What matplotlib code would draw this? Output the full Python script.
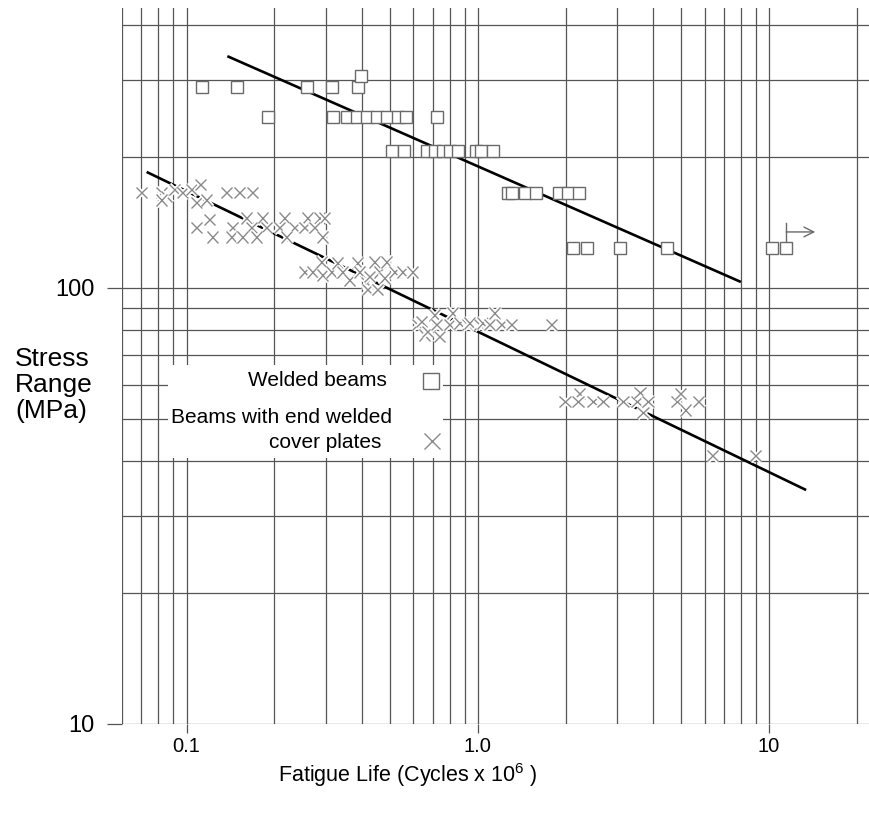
import matplotlib
matplotlib.use("Agg")
import matplotlib.pyplot as plt
from matplotlib.patches import Rectangle
from matplotlib import patheffects as pe

plt.rcParams['font.family'] = ['Liberation Sans', 'DejaVu Sans']
plt.rcParams['mathtext.fontset'] = 'custom'
plt.rcParams['mathtext.rm'] = 'Liberation Sans'
plt.rcParams['mathtext.it'] = 'Liberation Sans'

# ---------------- data ----------------
# Welded beams (squares): fatigue life (cycles x 1e6), stress range (MPa)
wb_N = [0.113, 0.149, 0.259, 0.315, 0.387,
        0.396,
        0.191, 0.318, 0.355, 0.384, 0.416, 0.450, 0.487, 0.531, 0.566, 0.723,
        0.507, 0.557, 0.668, 0.712, 0.758, 0.801, 0.854, 0.984, 1.024, 1.126,
        1.27, 1.31, 1.45, 1.58, 1.90, 2.04, 2.22,
        2.12, 2.37, 3.08, 4.46, 10.24, 11.44]
wb_S = [289, 289, 289, 289, 289,
        306,
        247, 247, 247, 247, 247, 247, 247, 247, 247, 247,
        206, 206, 206, 206, 206, 206, 206, 206, 206, 206,
        165, 165, 165, 165, 165, 165, 165,
        123.6, 123.6, 123.6, 123.6, 123.6, 123.6]

# Beams with end welded cover plates (crosses)
cp_N = [0.0700, 0.0821, 0.0854, 0.0910, 0.0969, 0.1040, 0.1117, 0.0821,
        0.1082, 0.1171, 0.1372, 0.1521, 0.1686,
        0.1082, 0.1200, 0.1229,
        0.1608, 0.1825, 0.2172, 0.2605, 0.2864, 0.2980,
        0.1439, 0.1673, 0.1884, 0.2087, 0.2350, 0.2544, 0.2754,
        0.1427, 0.1558, 0.1740, 0.2207, 0.2934,
        0.2544, 0.2710, 0.2910, 0.2934, 0.3150, 0.3303, 0.3436, 0.3633,
        0.3870, 0.3932, 0.4155, 0.4255, 0.4426, 0.4605, 0.4791, 0.4866,
        0.5187, 0.5524, 0.5978, 0.4188, 0.4533,
        0.6221, 0.6421, 0.6575, 0.6733, 0.7115, 0.7229, 0.7402, 0.8013,
        0.8205, 0.8673, 0.9240, 0.9387, 1.016, 1.040, 1.099, 1.144,
        1.209, 1.309, 1.796,
        1.991, 2.241, 2.206, 2.484, 2.689, 3.149, 3.519, 3.604, 3.838,
        3.690, 4.829, 4.946, 5.145, 5.702,
        6.370, 8.952]
cp_S = [165.2, 165.2, 161.7, 167.8, 165.2, 167.8, 172.3, 159.1,
        156.7, 159.1, 165.2, 165.2, 165.2,
        137.3, 143.2, 130.9,
        144.7, 144.7, 144.7, 144.7, 144.7, 144.7,
        137.3, 137.3, 137.3, 137.3, 137.3, 137.3, 137.3,
        130.9, 130.9, 130.9, 130.9, 130.9,
        108.8, 108.8, 114.7, 107.1, 108.8, 114.1, 108.8, 104.3,
        114.1, 108.8, 102.7, 106.0, 114.7, 108.8, 105.4, 114.7,
        108.8, 108.8, 108.8, 99.0, 99.0,
        82.3, 83.6, 78.0, 79.3, 86.7, 82.3, 77.2, 82.3,
        87.6, 83.1, 82.3, 83.1, 82.3, 83.1, 82.3, 87.6,
        82.3, 82.3, 82.3,
        54.8, 57.4, 54.8, 54.8, 54.8, 54.8, 54.8, 57.7, 54.8,
        51.9, 54.8, 57.4, 52.5, 54.8,
        41.2, 41.2]

# Regression lines (end points)
wb_fit_N = [0.138, 8.0]
wb_fit_S = [340, 103.2]
cp_fit_N = [0.0729, 13.4]
cp_fit_S = [184.5, 34.4]

# Run-out arrow on the last welded beam
runout_N = 11.44
runout_S = 123.6
arrow_top_S = 141
arrow_S = 134.4
arrow_tip_N = 14.4

# grid / ticks
x_grid = [0.06, 0.07, 0.08, 0.09, 0.1, 0.2, 0.3, 0.4, 0.5, 0.6, 0.7, 0.8, 0.9,
          1, 2, 3, 4, 5, 6, 7, 8, 9, 10, 20]
y_grid = [10, 20, 30, 40, 50, 60, 70, 80, 90, 100, 200, 300, 400]
x_ticks = [0.1, 1, 10]
x_tick_labels = ['0.1', '1.0', '10']
y_ticks = [10, 100]
y_tick_labels = ['10', '100']

# ---------------- figure ----------------
fig = plt.figure(figsize=(8.7, 8.14), dpi=100)
ax = fig.add_axes([122/870, 1-724/814, 748/870, 716/814])
ax.set_xscale('log')
ax.set_yscale('log')
ax.set_xlim(0.06, 22.2)
ax.set_ylim(10, 438.5)

for s in ax.spines.values():
    s.set_visible(False)

gcol = '#555555'
for xv in x_grid:
    ax.axvline(xv, color=gcol, lw=0.9, zorder=1)
for yv in y_grid:
    ax.axhline(yv, color=gcol, lw=0.9, zorder=1)

ax.xaxis.set_minor_locator(matplotlib.ticker.NullLocator())
ax.yaxis.set_minor_locator(matplotlib.ticker.NullLocator())
ax.set_xticks(x_ticks)
ax.set_xticklabels(x_tick_labels)
ax.set_yticks(y_ticks)
ax.set_yticklabels(y_tick_labels)
ax.tick_params(axis='x', length=6.5, width=0.9, color=gcol, pad=3, labelsize=14.5)
ax.tick_params(axis='y', length=10.5, width=0.9, color=gcol, pad=9.5, labelsize=17)

# legend white box
ax.add_patch(Rectangle((0.0615, 0.3715), 0.3676, 0.1299, transform=ax.transAxes,
                       facecolor='white', edgecolor='none', zorder=2))

# fit lines
ax.plot(wb_fit_N, wb_fit_S, color='black', lw=1.9, zorder=3, solid_capstyle='butt')
ax.plot(cp_fit_N, cp_fit_S, color='black', lw=1.9, zorder=3, solid_capstyle='butt')

# data
xcol = '#8a8a8a'
scol = '#6a6a6a'
ax.plot(cp_N, cp_S, ls='none', marker='x', ms=8, mew=1.0, color=xcol, zorder=4,
        path_effects=[pe.withStroke(linewidth=3.5, foreground='white')])
ax.plot(wb_N, wb_S, ls='none', marker='s', ms=8.3, mew=1.0, mfc='white', mec=scol,
        zorder=5)

# run-out arrow
ax.plot([runout_N, runout_N], [runout_S, arrow_top_S], color=scol, lw=1.0, zorder=4)
ax.annotate('', xy=(arrow_tip_N, arrow_S), xytext=(runout_N, arrow_S),
            arrowprops=dict(arrowstyle='->,head_length=0.7,head_width=0.35',
                            color=scol, lw=1.0, shrinkA=0, shrinkB=0), zorder=4)

# legend contents
ax.text(0.3543, 0.4804, 'Welded beams', transform=ax.transAxes, ha='right',
        va='center', fontsize=15, zorder=6)
ax.text(0.3610, 0.4274, 'Beams with end welded', transform=ax.transAxes, ha='right',
        va='center', fontsize=15, zorder=6)
ax.text(0.3463, 0.3925, 'cover plates', transform=ax.transAxes, ha='right',
        va='center', fontsize=15, zorder=6)
ax.plot([0.4131], [0.479], transform=ax.transAxes, ls='none', marker='s', ms=11,
        mew=1.0, mfc='white', mec=scol, zorder=6, clip_on=False)
ax.plot([0.4144], [0.3953], transform=ax.transAxes, ls='none', marker='x', ms=12,
        mew=1.0, color=xcol, zorder=6, clip_on=False)

# axis labels
fig.text(408/870, 1-775/814, 'Fatigue Life (Cycles x 10$^{6}$ )', ha='center',
         va='center', fontsize=15.5)
fig.text(15/870, 1-385/814, 'Stress\nRange\n(MPa)', ha='left', va='center',
         fontsize=19, linespacing=1.12)

fig.savefig('out.png', dpi=100)
